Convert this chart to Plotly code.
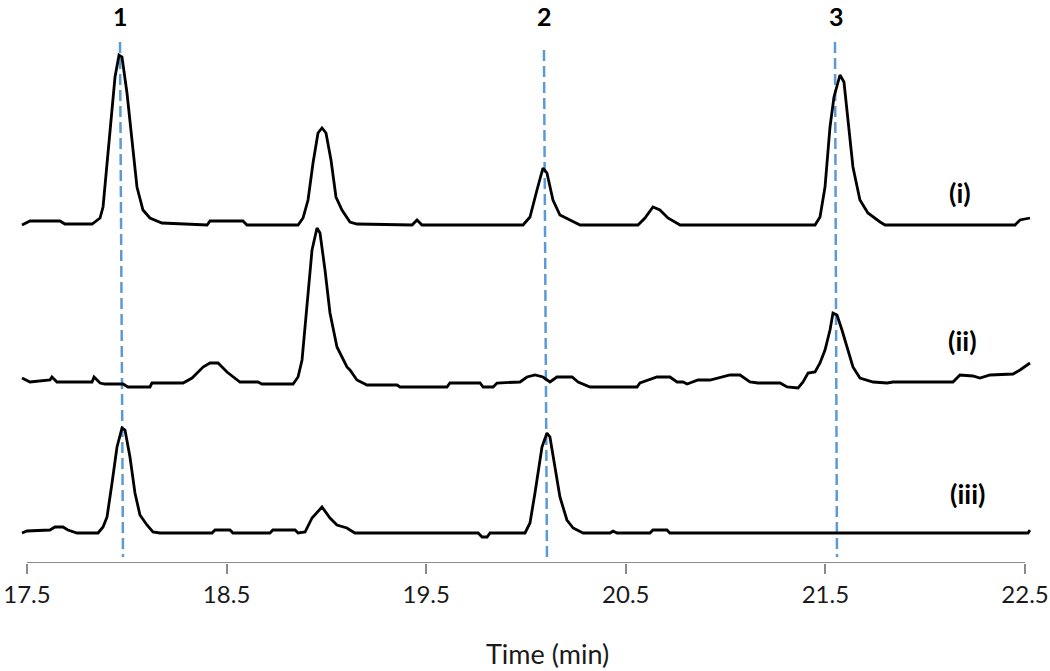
import plotly.graph_objects as go

# ---- data (time in min, signal in arbitrary units above each trace's baseline) ----
t_i = [17.475, 17.515, 17.665, 17.690, 17.826, 17.866, 17.881, 17.916, 17.941, 17.961, 17.976, 18.001,
       18.026, 18.051, 18.081, 18.116, 18.176, 18.402, 18.417, 18.582, 18.602, 18.858, 18.883, 18.908,
       18.933, 18.958, 18.978, 18.998, 19.023, 19.048, 19.078, 19.118, 19.153, 19.429, 19.454, 19.479,
       19.985, 20.020, 20.055, 20.085, 20.105, 20.135, 20.170, 20.246, 20.271, 20.561, 20.596, 20.636,
       20.671, 20.711, 20.757, 20.772, 21.448, 21.473, 21.498, 21.523, 21.543, 21.573, 21.593, 21.613,
       21.638, 21.673, 21.713, 21.774, 21.799, 22.450, 22.475, 22.525]
s_i = [0, 4, 4, 1, 1, 7, 18, 92, 148, 170, 168, 132,
       82, 38, 15, 7, 2, 0, 4, 4, 0, 0, 7, 25,
       62, 92, 97, 92, 65, 28, 15, 3, 1, 0, 5, 0,
       0, 8, 35, 57, 52, 25, 10, 2, 0, 0, 7, 18,
       15, 7, 2, 0, 0, 8, 38, 98, 128, 150, 143, 102,
       58, 25, 12, 3, 0, 0, 5, 7]

t_ii = [17.475, 17.515, 17.615, 17.625, 17.650, 17.826, 17.836, 17.866, 17.891, 17.981, 18.006, 18.116,
        18.126, 18.282, 18.327, 18.382, 18.417, 18.457, 18.502, 18.567, 18.657, 18.677, 18.833, 18.858,
        18.878, 18.903, 18.928, 18.953, 18.968, 18.993, 19.018, 19.053, 19.103, 19.118, 19.153, 19.203,
        19.354, 19.369, 19.604, 19.619, 19.770, 19.785, 19.835, 19.855, 19.970, 20.005, 20.045, 20.085,
        20.120, 20.155, 20.231, 20.261, 20.321, 20.556, 20.571, 20.656, 20.721, 20.757, 20.787, 20.807,
        20.862, 20.922, 21.022, 21.072, 21.122, 21.162, 21.273, 21.308, 21.363, 21.388, 21.413, 21.448,
        21.473, 21.498, 21.523, 21.538, 21.558, 21.583, 21.608, 21.638, 21.673, 21.739, 21.809, 21.839,
        22.139, 22.174, 22.239, 22.274, 22.325, 22.440, 22.475, 22.525]
s_ii = [7, 3, 5, 8, 3, 3, 8, 2, 1, 1, -2, -2,
        2, 2, 7, 18, 22, 22, 13, 3, 3, 1, 1, 8,
        25, 82, 135, 157, 152, 115, 72, 38, 18, 15, 5, 0,
        0, -2, -2, 2, 2, -2, -2, 2, 3, 8, 10, 8,
        3, 8, 8, 3, -2, -2, 2, 8, 8, 3, 3, 1,
        5, 5, 10, 10, 3, 2, 2, -2, -3, 3, 12, 13,
        22, 35, 55, 72, 70, 55, 38, 18, 7, 3, 2, 3,
        3, 10, 9, 7, 10, 11, 15, 22]

t_iii = [17.475, 17.500, 17.615, 17.640, 17.680, 17.705, 17.751, 17.856, 17.881, 17.901, 17.926, 17.951,
         17.976, 17.991, 18.016, 18.041, 18.066, 18.101, 18.131, 18.166, 18.427, 18.442, 18.517, 18.532,
         18.717, 18.732, 18.843, 18.858, 18.893, 18.928, 18.978, 19.018, 19.053, 19.103, 19.118, 19.143,
         19.760, 19.780, 19.805, 19.820, 19.995, 20.020, 20.045, 20.080, 20.105, 20.120, 20.145, 20.170,
         20.205, 20.236, 20.286, 20.421, 20.436, 20.456, 20.621, 20.636, 20.706, 20.721, 22.515, 22.525]
s_iii = [0, 2, 3, 6, 6, 3, 0, 0, 6, 16, 50, 86,
         105, 103, 76, 40, 18, 8, 1, 0, 0, 3, 3, 0,
         0, 3, 3, 0, 1, 15, 26, 15, 8, 5, 3, 0,
         0, -4, -4, 0, 0, 10, 40, 86, 100, 96, 66, 36,
         13, 5, 0, 0, 2, 0, 0, 3, 3, 0, 0, 3]

trace_names = ["(i)", "(ii)", "(iii)"]
trace_offsets = [338, 178, 30]

peak_labels = ["1", "2", "3"]
peak_time_top = [17.966, 20.090, 21.548]
peak_time_bottom = [17.981, 20.105, 21.558]
peak_line_top = [521, 513, 521]
peak_line_bottom = [6, 6, 6]
peak_label_time = [17.966, 20.095, 21.558]
peak_label_y = [547, 547, 547]

label_time = [22.174, 22.189, 22.214]
label_y = [371, 223, 70]

tick_vals = [17.5, 18.5, 19.5, 20.5, 21.5, 22.5]
tick_text = ["17.5", "18.5", "19.5", "20.5", "21.5", "22.5"]
x_title = "Time (min)"

FONT = "Lato, 'Open Sans', sans-serif"

fig = go.Figure()

# dashed reference lines
for i in range(len(peak_labels)):
    fig.add_trace(go.Scatter(
        x=[peak_time_top[i], peak_time_bottom[i]],
        y=[peak_line_top[i], peak_line_bottom[i]],
        mode="lines", line=dict(color="#5B9BD5", width=2.5, dash="11px,5px"),
        showlegend=False, hoverinfo="skip"))

traces = [(t_i, s_i), (t_ii, s_ii), (t_iii, s_iii)]
for (tt, ss), name, off in zip(traces, trace_names, trace_offsets):
    fig.add_trace(go.Scatter(
        x=tt, y=[v + off for v in ss], mode="lines", name=name,
        line=dict(color="black", width=2.8), showlegend=False, cliponaxis=False))

# trace labels
for name, xt, yt in zip(trace_names, label_time, label_y):
    fig.add_annotation(x=xt, y=yt, text="<b>%s</b>" % name, showarrow=False,
                       font=dict(family=FONT, size=27, color="black"),
                       xanchor="center", yanchor="middle")

# peak numbers
for lab, xt, yt in zip(peak_labels, peak_label_time, peak_label_y):
    fig.add_annotation(x=xt, y=yt, text="<b>%s</b>" % lab, showarrow=False,
                       font=dict(family=FONT, size=25, color="black"),
                       xanchor="center", yanchor="middle")

# axis line between the end ticks
fig.add_shape(type="line", xref="x", yref="y", x0=tick_vals[0], x1=tick_vals[-1], y0=0, y1=0,
              line=dict(color="#8a8a8a", width=2))

# axis title (paper-referenced so it is not hidden outside the y range)
fig.add_annotation(x=20.11, xref="x", y=-90 / 563, yref="paper", text=x_title, showarrow=False,
                   font=dict(family=FONT, size=27, color="#1a1a1a"),
                   xanchor="center", yanchor="middle")

fig.update_layout(
    width=1050, height=671,
    margin=dict(l=21, r=19, t=0, b=108, autoexpand=False),
    plot_bgcolor="white", paper_bgcolor="white",
    xaxis=dict(range=[17.47, 22.53], tickvals=tick_vals, ticktext=tick_text,
               showgrid=False, zeroline=False, showline=False, automargin=False,
               ticks="outside", ticklen=10, tickwidth=2, tickcolor="#8a8a8a",
               tickfont=dict(family=FONT, size=24, color="#1a1a1a")),
    yaxis=dict(range=[0, 563], visible=False, showgrid=False, zeroline=False, automargin=False),
)

fig.write_html("out.html", config={"displayModeBar": False},
               post_script="document.body.style.margin='0';document.body.style.overflow='hidden';")
